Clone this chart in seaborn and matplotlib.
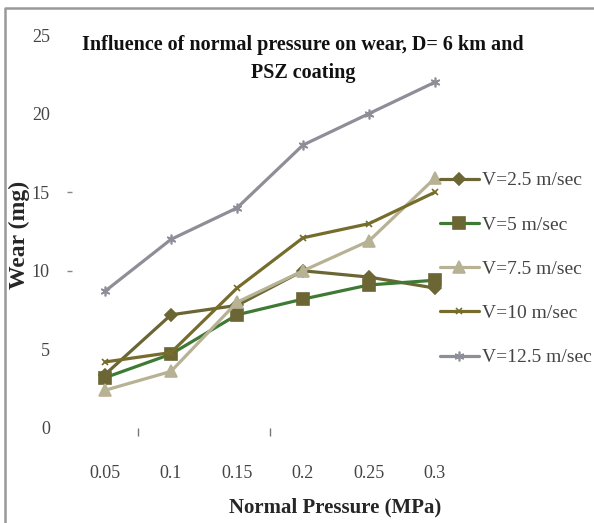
import matplotlib
matplotlib.use("Agg")
import matplotlib.pyplot as plt
import seaborn as sns
import pandas as pd
from matplotlib.lines import Line2D

# Normal pressure categories (MPa) and wear (mg) per sliding velocity
pressure = ["0.05", "0.1", "0.15", "0.2", "0.25", "0.3"]
wear_v2_5 = [3.4, 7.2, 7.8, 10.0, 9.6, 8.9]
wear_v5 = [3.2, 4.7, 7.2, 8.2, 9.1, 9.4]
wear_v7_5 = [2.4, 3.6, 8.0, 10.0, 11.9, 15.9]
wear_v10 = [4.2, 4.8, 8.9, 12.1, 13.0, 15.0]
wear_v12_5 = [8.7, 12.0, 14.0, 18.0, 20.0, 22.0]
series_names = ["V=2.5 m/sec", "V=5 m/sec", "V=7.5 m/sec", "V=10 m/sec", "V=12.5 m/sec"]

sns.set_theme(style="white")
plt.rcParams["font.family"] = ["Liberation Serif", "DejaVu Serif"]

fig = plt.figure(figsize=(5.94, 5.23), dpi=100)
ax = fig.add_axes([72 / 594, 1 - 428 / 523, 396 / 594, 393 / 523])

styles = [
    dict(color="#6b6633", marker="D", markersize=6, mfc="#6b6633", mec="#6b6633"),
    dict(color="#3f7a35", marker="s", markersize=9, mfc="#6b6633", mec="#6b6633"),
    dict(color="#b7b294", marker="^", markersize=9, mfc="#b7b294", mec="#b7b294"),
    dict(color="#766d2c", marker="x", markersize=5, mfc="#766d2c", mec="#766d2c"),
    dict(color="#8e8e98", marker=(6, 2, 0), markersize=7, mfc="#8e8e98", mec="#8e8e98"),
]
all_values = [wear_v2_5, wear_v5, wear_v7_5, wear_v10, wear_v12_5]

for name, vals, st in zip(series_names, all_values, styles):
    df = pd.DataFrame({"Pressure": pressure, "Wear": vals})
    sns.lineplot(data=df, x="Pressure", y="Wear", ax=ax, sort=False,
                 color=st["color"], marker=st["marker"], markersize=st["markersize"],
                 markerfacecolor=st["mfc"], markeredgecolor=st["mec"],
                 markeredgewidth=1.2, linewidth=2.3, label=name)

ax.set_xlim(-0.5, 5.5)
ax.set_ylim(0, 25)

# y axis: labels only, with short dashes at 10 and 15
ax.yaxis.remove_overlapping_locs = False
ax.set_yticks([0, 5, 10, 15, 20, 25])
ax.set_yticklabels(["0", "5", "10", "15", "20", "25"])
ax.set_yticks([10, 15], minor=True)
ax.tick_params(axis="y", which="major", length=0, pad=16, labelsize=13, labelcolor="#444444")
ax.tick_params(axis="y", which="minor", length=3.5, width=1, color="#888888", left=True,
               direction="out")

# x axis: category labels well below the zero line, two short tick marks
ax.set_xticks(range(len(pressure)))
ax.set_xticklabels(pressure)
ax.set_xticks([0.5, 2.5], minor=True)
ax.tick_params(axis="x", which="major", length=0, pad=27, labelsize=13, labelcolor="#444444")
ax.tick_params(axis="x", which="minor", length=6, width=1, color="#777777", bottom=True,
               direction="out")
for s in ax.spines.values():
    s.set_visible(False)
ax.grid(False)

ax.set_xlabel("Normal Pressure (MPa)", fontsize=15, fontweight="bold")
ax.set_ylabel("Wear (mg)", fontsize=17, fontweight="bold")
ax.xaxis.set_label_coords((335 - 72) / 396, -0.178)
ax.yaxis.set_label_coords(-0.105, 0.49)

fig.text(303 / 594, 1 - 59 / 523,
         "Influence of normal pressure on wear, D= 6 km and\nPSZ coating",
         ha="center", va="center", fontsize=14.5, fontweight="bold",
         linespacing=1.5, color="#111111")

ax.legend(loc="upper left", bbox_to_anchor=(432 / 594, 1 - 164 / 523),
          bbox_transform=fig.transFigure, frameon=False, fontsize=14,
          borderaxespad=0, labelspacing=1.37, handlelength=2.0, handletextpad=0.15,
          labelcolor="#444444")

# frame lines along the top and left edges of the image
fig.lines.append(Line2D([5 / 594, 5 / 594, 1.0], [0.0, 1 - 8 / 523, 1 - 8 / 523],
                        transform=fig.transFigure, color="#999999", linewidth=1.8))

fig.savefig("out.png", dpi=100)
